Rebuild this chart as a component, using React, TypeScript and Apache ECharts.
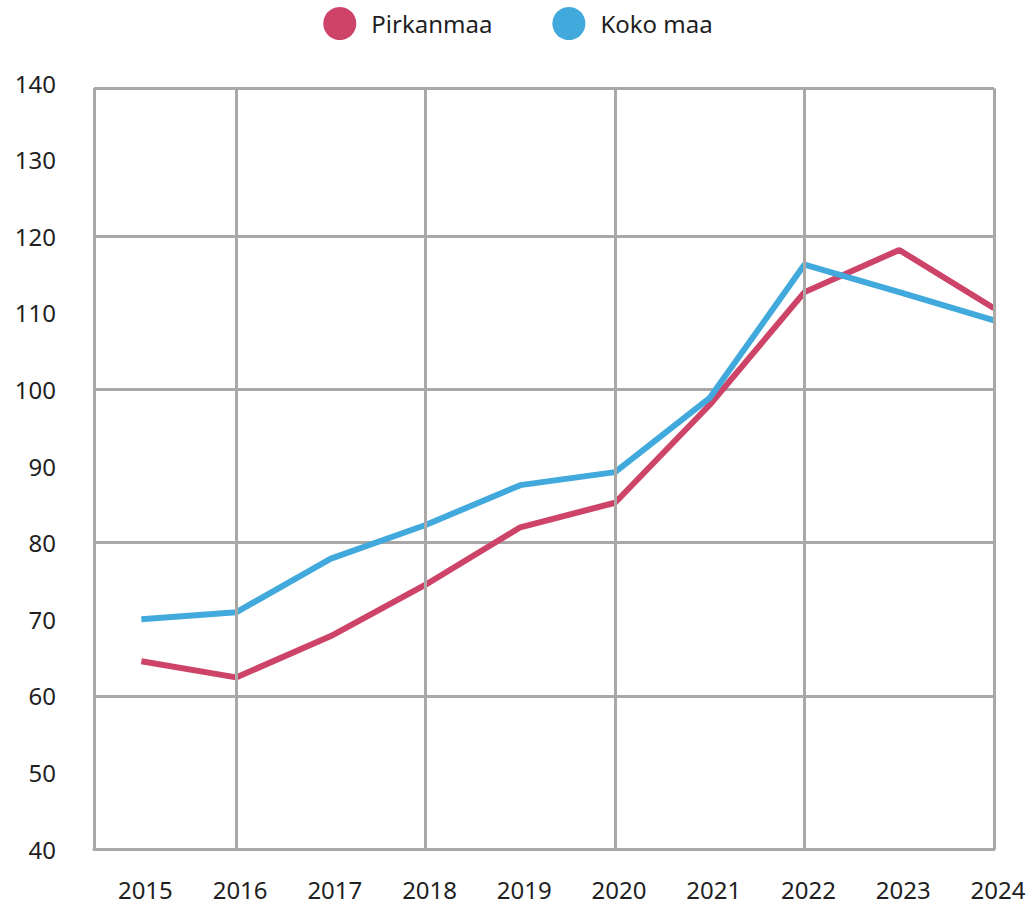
import React, { useEffect, useRef } from "react";
import * as echarts from "echarts";

const years = [2015, 2016, 2017, 2018, 2019, 2020, 2021, 2022, 2023, 2024];
const pirkanmaa = [64.5, 62.4, 67.8, 74.5, 82.0, 85.2, 98.0, 112.7, 118.2, 110.6];
const kokoMaa = [70.0, 70.9, 77.9, 82.3, 87.5, 89.2, 98.9, 116.3, 112.7, 109.0];
const verticalGridYears = [2014.5, 2016, 2018, 2020, 2022, 2024];

const GRAY = "#aaa7a7";
const RED = "#cd4468";
const BLUE = "#41a9db";
const FONT = "'Noto Sans', sans-serif";
const TEXT = "#1f1f1f";

export default function App() {
  const ref = useRef<HTMLDivElement>(null);
  useEffect(() => {
    if (!ref.current) return;
    const chart = echarts.init(ref.current, undefined, { renderer: "svg" });
    const pair = (a: number[], b: number[]) => a.map((y, i) => [y, b[i]]);
    chart.setOption({
      animation: false,
      textStyle: { fontFamily: FONT },
      legend: {
        top: 2,
        left: "center",
        icon: "circle",
        itemWidth: 33,
        itemHeight: 33,
        itemGap: 60,
        data: ["Pirkanmaa", "Koko maa"],
        textStyle: { fontSize: 24, color: TEXT, fontFamily: FONT, padding: [0, 0, 0, 10] },
      },
      grid: { left: 94, right: 42, top: 83, bottom: 57, containLabel: false },
      xAxis: {
        type: "value",
        min: 2014.5,
        max: 2024,
        interval: 0.5,
        axisLine: { show: true, lineStyle: { color: GRAY, width: 3 } },
        axisTick: { show: false },
        splitLine: { show: false },
        axisLabel: {
          fontSize: 24,
          lineHeight: 26,
          color: TEXT,
          fontFamily: FONT,
          margin: 27,
          showMinLabel: false,
          formatter: (v: number) => (Number.isInteger(v) && v >= 2015 ? String(v) : ""),
          padding: [0, 0, 0, 8],
        },
      },
      yAxis: [
        {
          type: "value",
          min: 40,
          max: 140,
          interval: 20,
          position: "left",
          axisLine: { show: false },
          axisTick: { show: false },
          axisLabel: { show: false },
          splitLine: { show: true, showMaxLine: false, lineStyle: { color: GRAY, width: 3 } },
        },
        {
          type: "value",
          min: 40,
          max: 140,
          interval: 10,
          position: "left",
          offset: 0,
          axisLine: { show: false },
          axisTick: { show: false },
          splitLine: { show: false },
          axisLabel: { fontSize: 24, color: TEXT, fontFamily: FONT, margin: 38 },
        },
      ],
      series: [
        {
          name: "grid",
          type: "line",
          data: [],
          z: 1,
          silent: true,
          markLine: {
            silent: true,
            symbol: "none",
            label: { show: false },
            lineStyle: { color: GRAY, width: 3, type: "solid" },
            data: [
              ...verticalGridYears.map((x) => [
                { coord: [x, 40] },
                { coord: [x, 139.3] },
              ]),
              [{ coord: [2014.5, 139.3] }, { coord: [2024, 139.3] }],
            ],
          },
        },
        {
          name: "Pirkanmaa",
          type: "line",
          data: pair(years, pirkanmaa),
          showSymbol: false,
          symbol: "circle",
          itemStyle: { color: RED },
          lineStyle: { color: RED, width: 6 },
          z: 3,
        },
        {
          name: "Koko maa",
          type: "line",
          data: pair(years, kokoMaa),
          showSymbol: false,
          symbol: "circle",
          itemStyle: { color: BLUE },
          lineStyle: { color: BLUE, width: 6 },
          z: 3,
        },
      ],
    });
    return () => chart.dispose();
  }, []);
  return (
    <div
      ref={ref}
      style={{ position: "absolute", left: 0, top: 0, width: 1036, height: 906 }}
    />
  );
}
